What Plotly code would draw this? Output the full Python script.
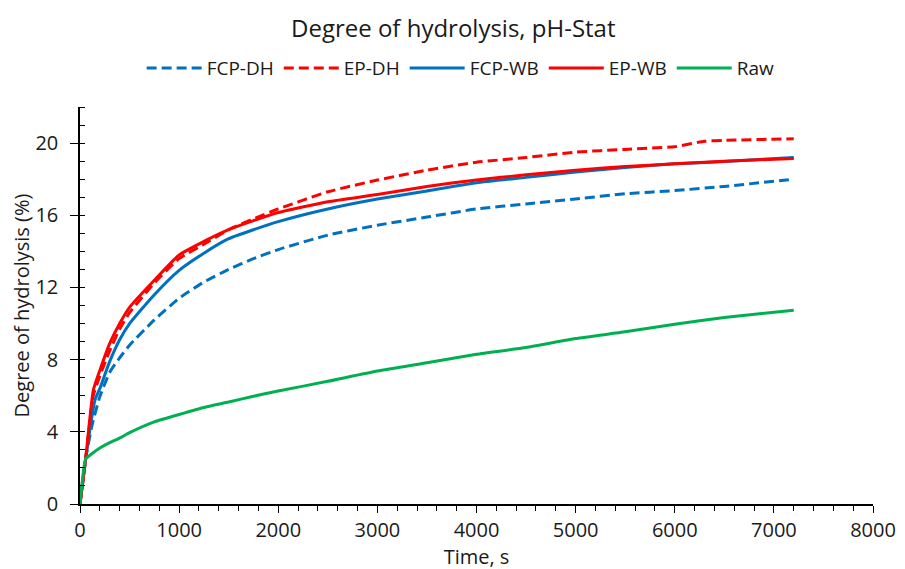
import plotly.graph_objects as go

# Time points (s) and series values (%)
t_ep_wb = [0, 57, 134, 200, 300, 400, 500, 750, 1000, 1250, 1500, 1750, 2000, 2500, 3000, 3500, 4000, 4500, 5000, 5500, 6000, 6500, 7200]
ep_wb = [0, 2.5, 6.3, 7.4, 8.9, 10.0, 10.9, 12.4, 13.8, 14.55, 15.2, 15.7, 16.15, 16.75, 17.15, 17.6, 17.96, 18.24, 18.5, 18.7, 18.85, 19.0, 19.15]

t_ep_dh = [0, 57, 134, 200, 300, 400, 500, 750, 1000, 1250, 1500, 1750, 2000, 2500, 3000, 3500, 4000, 4500, 5000, 5500, 6000, 6300, 6500, 7200]
ep_dh = [0, 2.5, 6.0, 7.1, 8.5, 9.7, 10.6, 12.25, 13.6, 14.4, 15.2, 15.8, 16.35, 17.3, 17.95, 18.5, 18.94, 19.2, 19.5, 19.65, 19.8, 20.1, 20.15, 20.24]

t_fcp_wb = [0, 57, 151, 200, 300, 400, 500, 750, 1000, 1250, 1500, 1750, 2000, 2500, 3000, 3500, 4000, 4500, 5000, 5500, 6000, 6500, 7200]
fcp_wb = [0, 2.5, 5.76, 6.4, 7.9, 9.1, 10.0, 11.6, 12.95, 13.9, 14.7, 15.2, 15.65, 16.35, 16.9, 17.35, 17.8, 18.1, 18.4, 18.65, 18.85, 18.98, 19.2]

t_fcp_dh = [0, 57, 118, 200, 300, 400, 500, 750, 1000, 1250, 1500, 1750, 2000, 2500, 3000, 3500, 4000, 4500, 5000, 5500, 6000, 6500, 7200]
fcp_dh = [0, 2.5, 4.28, 5.95, 7.3, 8.1, 8.8, 10.2, 11.4, 12.3, 13.0, 13.6, 14.1, 14.9, 15.45, 15.9, 16.35, 16.63, 16.9, 17.19, 17.37, 17.6, 18.0]

t_raw = [0, 57, 100, 200, 300, 400, 500, 750, 1000, 1250, 1500, 1750, 2000, 2500, 3000, 3500, 4000, 4500, 5000, 5500, 6000, 6500, 7200]
raw = [0, 2.5, 2.7, 3.1, 3.4, 3.65, 3.95, 4.55, 4.96, 5.35, 5.65, 5.97, 6.26, 6.8, 7.37, 7.83, 8.3, 8.67, 9.17, 9.54, 9.96, 10.33, 10.74]

x_ticks = [0, 1000, 2000, 3000, 4000, 5000, 6000, 7000, 8000]
y_ticks = [0, 4, 8, 12, 16, 20]

BLUE = "#0070C0"
RED = "#FF0000"
GREEN = "#00B050"
FONT = "Open Sans"
TXT = "#1a1a1a"

fig = go.Figure()
series = [
    ("FCP-DH", t_fcp_dh, fcp_dh, BLUE, "10px,5px"),
    ("EP-DH", t_ep_dh, ep_dh, RED, "10px,5px"),
    ("FCP-WB", t_fcp_wb, fcp_wb, BLUE, "solid"),
    ("EP-WB", t_ep_wb, ep_wb, RED, "solid"),
    ("Raw", t_raw, raw, GREEN, "solid"),
]
for name, x, y, c, d in series:
    fig.add_trace(go.Scatter(x=x, y=y, name=name, mode="lines",
                             line=dict(color=c, width=3, dash=d, shape="spline", smoothing=0.5)))

axis_common = dict(
    showline=True, linecolor="black", linewidth=1.5, showgrid=False, zeroline=False,
    ticks="outside", tickcolor="black", tickwidth=1.3, automargin=False,
    tickfont=dict(family=FONT, size=20, color=TXT),
    mirror=False,
)

fig.update_xaxes(range=[0, 8000], tickvals=x_ticks, ticklen=7, ticklabelstandoff=0,
                 minor=dict(dtick=200, ticks="outside", ticklen=5, tickcolor="black", tickwidth=1),
                 title=dict(text="Time, s", font=dict(family=FONT, size=20, color=TXT), standoff=0),
                 **axis_common)
fig.update_yaxes(range=[0, 22], tickvals=y_ticks, ticklen=8, ticklabelstandoff=8,
                 minor=dict(dtick=1, ticks="inside", ticklen=5, tickcolor="black", tickwidth=1),
                 title=dict(text="Degree of hydrolysis (%)", font=dict(family=FONT, size=20, color=TXT), standoff=6),
                 **axis_common)

fig.update_layout(
    width=905, height=569,
    margin=dict(l=72, r=40, t=99, b=73),
    paper_bgcolor="white", plot_bgcolor="white",
    title=dict(text="Degree of hydrolysis, pH-Stat", xref="container", x=0.492, xanchor="center",
               y=1 - 21 / 569, yanchor="middle",
               font=dict(family=FONT, size=24, color=TXT)),
    legend=dict(orientation="h", x=0.48, xanchor="center", y=1.098, yanchor="middle",
                font=dict(family=FONT, size=19, color=TXT),
                itemwidth=55, tracegroupgap=0),
    showlegend=True,
)

fig.write_html("out.html")
